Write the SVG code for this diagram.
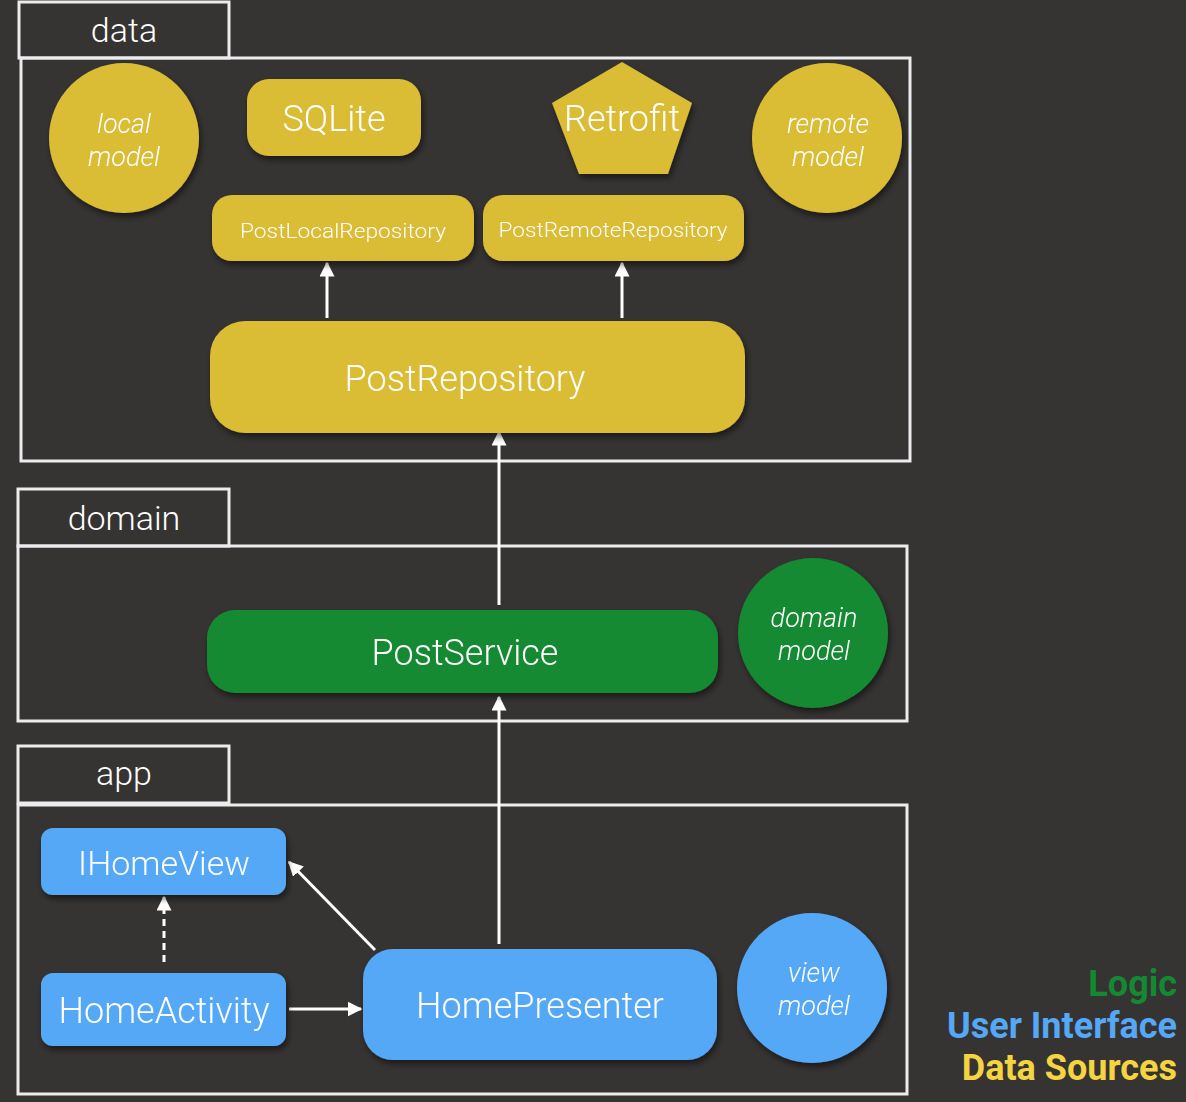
<svg xmlns="http://www.w3.org/2000/svg" width="1186" height="1102" viewBox="0 0 1186 1102">
<style>
.bg{fill:#363432}
.frame{fill:none;stroke:#ececef;stroke-width:3}
.y{fill:#dabc36}
.g{fill:#138a31}
.b{fill:#55a8f5}
.t{font-family:Roboto,"Liberation Sans",sans-serif;font-weight:300;fill:#ffffff;text-anchor:middle}
.i{font-style:italic}
.lbl{font-family:Roboto,"Liberation Sans",sans-serif;font-weight:300;fill:#ffffff;text-anchor:middle;font-size:34px}
.leg{font-family:Roboto,"Liberation Sans",sans-serif;font-weight:bold;font-size:36px;text-anchor:end}
.ln{stroke:#ffffff;stroke-width:3;fill:none}
</style>
<defs>
<filter id="sh" x="-20%" y="-20%" width="140%" height="150%">
<feDropShadow dx="2" dy="4" stdDeviation="3" flood-color="#000" flood-opacity="0.5"/>
</filter>
<marker id="ah" viewBox="0 0 10 10" refX="9" refY="5" markerWidth="5" markerHeight="5" markerUnits="strokeWidth" orient="auto">
<path d="M0,0 L10,5 L0,10 z" fill="#ffffff"/>
</marker>
</defs>
<rect class="bg" x="0" y="0" width="1186" height="1102"/>

<g id="layer-data">
<rect class="frame" x="19" y="2" width="210" height="56"/>
<rect class="frame" x="21" y="58" width="889" height="403"/>
<text class="lbl" x="124" y="42">data</text>
</g>
<g id="layer-domain">
<rect class="frame" x="18" y="489" width="211" height="57"/>
<rect class="frame" x="18" y="546" width="889" height="175"/>
<text class="lbl" x="124" y="530">domain</text>
</g>
<g id="layer-app">
<rect class="frame" x="18" y="746" width="211" height="57"/>
<rect class="frame" x="18" y="805" width="889" height="289"/>
<text class="lbl" x="124" y="785">app</text>
</g>

<g id="connectors">
<line class="ln" x1="327" y1="318" x2="327" y2="263" marker-end="url(#ah)"/>
<line class="ln" x1="622" y1="318" x2="622" y2="263" marker-end="url(#ah)"/>
<line class="ln" x1="499" y1="605" x2="499" y2="432" marker-end="url(#ah)"/>
<line class="ln" x1="499" y1="944" x2="499" y2="697" marker-end="url(#ah)"/>
<line class="ln" x1="164" y1="962" x2="164" y2="897" stroke-dasharray="7,5" marker-end="url(#ah)"/>
<line class="ln" x1="289" y1="1009" x2="361" y2="1009" marker-end="url(#ah)"/>
<line class="ln" x1="375" y1="950" x2="289" y2="862" marker-end="url(#ah)"/>
</g>

<g id="local-model" filter="url(#sh)">
<circle class="y" cx="124" cy="138" r="75"/>
<text class="t i" x="124" y="133" font-size="27">local</text>
<text class="t i" x="124" y="166" font-size="27">model</text>
</g>
<g id="sqlite" filter="url(#sh)">
<rect class="y" x="247" y="79" width="174" height="77" rx="22"/>
<text class="t" x="334" y="131" font-size="36">SQLite</text>
</g>
<g id="retrofit" filter="url(#sh)">
<polygon class="y" points="622,62 692,103 668,174 579,174 552,103"/>
<text class="t" x="622" y="131" font-size="36">Retrofit</text>
</g>
<g id="remote-model" filter="url(#sh)">
<circle class="y" cx="827" cy="138" r="75"/>
<text class="t i" x="828" y="133" font-size="27">remote</text>
<text class="t i" x="828" y="166" font-size="27">model</text>
</g>
<g id="post-local-repository" filter="url(#sh)">
<rect class="y" x="212" y="195" width="262" height="66" rx="20"/>
<text class="t" x="343" y="238" font-size="21" textLength="206" lengthAdjust="spacingAndGlyphs">PostLocalRepository</text>
</g>
<g id="post-remote-repository" filter="url(#sh)">
<rect class="y" x="483" y="195" width="261" height="66" rx="20"/>
<text class="t" x="613" y="237" font-size="21" textLength="229" lengthAdjust="spacingAndGlyphs">PostRemoteRepository</text>
</g>
<g id="post-repository" filter="url(#sh)">
<rect class="y" x="210" y="321" width="535" height="112" rx="35"/>
<text class="t" x="465" y="391" font-size="36">PostRepository</text>
</g>
<g id="post-service" filter="url(#sh)">
<rect class="g" x="207" y="610" width="511" height="83" rx="28"/>
<text class="t" x="465" y="665" font-size="36">PostService</text>
</g>
<g id="domain-model" filter="url(#sh)">
<circle class="g" cx="813" cy="633" r="75"/>
<text class="t i" x="814" y="627" font-size="27">domain</text>
<text class="t i" x="814" y="660" font-size="27">model</text>
</g>
<g id="ihomeview" filter="url(#sh)">
<rect class="b" x="41" y="828" width="245" height="67" rx="12"/>
<text class="t" x="164" y="875" font-size="34">IHomeView</text>
</g>
<g id="homeactivity" filter="url(#sh)">
<rect class="b" x="41" y="973" width="245" height="73" rx="12"/>
<text class="t" x="164" y="1023" font-size="36">HomeActivity</text>
</g>
<g id="homepresenter" filter="url(#sh)">
<rect class="b" x="363" y="949" width="354" height="111" rx="30"/>
<text class="t" x="540" y="1018" font-size="36">HomePresenter</text>
</g>
<g id="view-model" filter="url(#sh)">
<circle class="b" cx="812" cy="988" r="75"/>
<text class="t i" x="814" y="982" font-size="27">view</text>
<text class="t i" x="814" y="1015" font-size="27">model</text>
</g>

<g id="legend">
<text class="leg" x="1177" y="996" fill="#138a31">Logic</text>
<text class="leg" x="1177" y="1038" fill="#55a8f5">User Interface</text>
<text class="leg" x="1177" y="1080" fill="#f5d442">Data Sources</text>
</g>
</svg>
